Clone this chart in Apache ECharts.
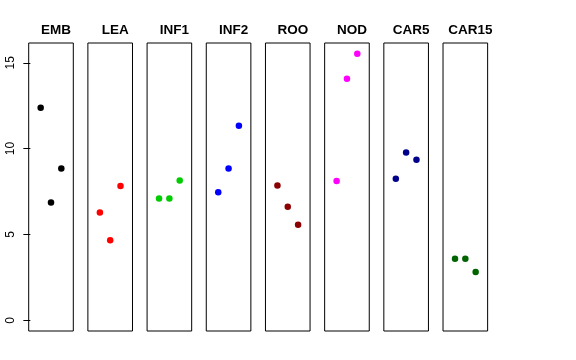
<!DOCTYPE html>
<html>
<head>
<meta charset="utf-8">
<script src="https://cdn.jsdelivr.net/npm/echarts@6/dist/echarts.min.js"></script>
<style>html,body{margin:0;padding:0;background:#fff}#c{width:576px;height:360px}</style>
</head>
<body>
<div id="c"></div>
<script>
const panels = ['EMB','LEA','INF1','INF2','ROO','NOD','CAR5','CAR15'];
const colors = ['#000000','#FF0000','#00CD00','#0000FF','#8B0000','#FF00FF','#00008B','#006400'];
const EMB = [12.38, 6.86, 8.84];
const LEA = [6.28, 4.66, 7.83];
const INF1 = [7.10, 7.10, 8.15];
const INF2 = [7.46, 8.84, 11.33];
const ROO = [7.85, 6.61, 5.56];
const NOD = [8.12, 14.07, 15.53];
const CAR5 = [8.24, 9.78, 9.35];
const CAR15 = [3.58, 3.58, 2.82];
const values = [EMB, LEA, INF1, INF2, ROO, NOD, CAR5, CAR15];
const yTicks = [0, 5, 10, 15];

const yLo = 0, yHi = 15.53, ext = (yHi - yLo) * 0.04;
const xLo = 0, xHi = 4, xext = (xHi - xLo) * 0.04;

const grids = [], xAxes = [], yAxes = [], series = [], titles = [];
panels.forEach((name, i) => {
  const left = 28.7 + 59.19 * i, width = 44.6;
  grids.push({left: left, top: 43, width: width, height: 288, show: true, borderColor: '#000', borderWidth: 1, backgroundColor: 'transparent'});
  xAxes.push({type: 'value', gridIndex: i, min: xLo - xext, max: xHi + xext, show: false});
  yAxes.push({
    type: 'value', gridIndex: i, min: yLo - ext, max: yHi + ext,
    show: i === 0,
    axisLine: {show: false},
    splitLine: {show: false},
    axisTick: {show: true, length: 7, lineStyle: {color: '#000'}, customValues: yTicks},
    axisLabel: {show: true, customValues: yTicks, rotate: 90, margin: 12, color: '#000', fontSize: 12, fontFamily: 'Liberation Sans'}
  });
  series.push({
    type: 'scatter', xAxisIndex: i, yAxisIndex: i,
    data: values[i].map((v, k) => [k + 1, v]),
    symbol: 'circle', symbolSize: 6.5,
    itemStyle: {color: colors[i], opacity: 1},
    silent: true
  });
  titles.push({text: name, left: left + width / 2, top: 18, textAlign: 'center',
    textStyle: {fontFamily: 'Liberation Sans', fontWeight: 'bold', fontSize: 13.5, color: '#000'}});
});

const chart = echarts.init(document.getElementById('c'), null, {renderer: 'canvas'});
chart.setOption({
  animation: false,
  backgroundColor: '#fff',
  title: titles,
  grid: grids,
  xAxis: xAxes,
  yAxis: yAxes,
  series: series
});
</script>
</body>
</html>
